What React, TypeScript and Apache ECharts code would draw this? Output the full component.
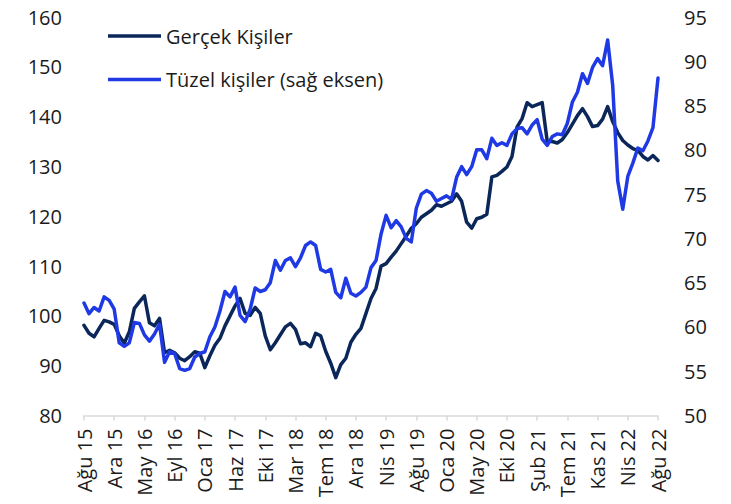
import React, { useEffect, useRef } from "react";
import * as echarts from "echarts";

const tickLabels = [
  "Ağu 15", "Ara 15", "May 16", "Eyl 16", "Oca 17", "Haz 17", "Eki 17", "Mar 18", "Tem 18", "Ara 18",
  "Nis 19", "Ağu 19", "Oca 20", "May 20", "Eki 20", "Şub 21", "Tem 21", "Kas 21", "Nis 22", "Ağu 22",
];
const pointsPerLabel = 6;

const seriesNames = ["Gerçek Kişiler", "Tüzel kişiler (sağ eksen)"];

// Gerçek Kişiler (left axis)
const gercekKisiler = [
  98.1, 96.5, 95.8, 97.5, 99.1, 98.8, 98.3, 96.0, 94.5, 96.8,
  101.5, 102.8, 104.0, 98.6, 98.0, 99.5, 92.6, 93.1, 92.6, 91.5,
  91.0, 91.8, 92.8, 92.5, 89.6, 92.0, 94.1, 95.5, 98.0, 100.0,
  102.0, 103.5, 100.5, 100.1, 101.7, 100.5, 96.0, 93.2, 94.6, 96.2,
  97.8, 98.5, 97.3, 94.4, 94.6, 93.8, 96.5, 96.0, 92.9, 90.5,
  87.6, 90.2, 91.5, 94.7, 96.3, 97.5, 100.5, 103.5, 105.5, 110.0,
  110.5, 111.8, 113.0, 114.5, 116.0, 117.6, 118.5, 119.8, 120.5, 121.2,
  122.3, 122.0, 122.5, 123.0, 124.5, 123.0, 118.8, 117.6, 119.5, 119.8,
  120.4, 127.9, 128.2, 129.0, 129.9, 132.0, 137.9, 139.6, 142.8, 142.0,
  142.4, 142.8, 135.0, 135.0, 134.7, 135.4, 136.8, 138.5, 140.2, 141.6,
  140.0, 138.0, 138.2, 139.5, 142.0, 139.0, 136.8, 135.2, 134.3, 133.6,
  133.2, 132.0, 131.3, 132.2, 131.2,
];

// Tüzel kişiler (right axis)
const tuzelKisiler = [
  62.7, 61.5, 62.2, 61.8, 63.4, 63.0, 62.0, 58.2, 57.8, 58.2,
  60.5, 60.4, 59.1, 58.4, 59.2, 60.3, 56.0, 57.2, 57.0, 55.3,
  55.1, 55.3, 56.6, 57.0, 57.2, 58.9, 60.0, 61.8, 64.0, 63.4,
  64.5, 61.3, 60.6, 62.0, 64.4, 64.0, 64.2, 65.0, 67.5, 66.4,
  67.5, 67.8, 66.8, 67.8, 69.2, 69.6, 69.2, 66.5, 66.2, 66.5,
  63.9, 63.3, 65.5, 63.8, 63.5, 63.9, 64.5, 66.7, 67.5, 70.5,
  72.6, 71.2, 72.0, 71.3, 70.0, 69.6, 73.4, 75.0, 75.4, 75.1,
  74.2, 74.5, 74.8, 74.4, 76.9, 78.1, 77.2, 78.1, 80.0, 80.0,
  79.0, 81.3, 80.5, 80.8, 80.5, 81.8, 82.4, 82.5, 81.8, 82.8,
  83.4, 81.2, 80.5, 81.5, 81.8, 81.7, 83.0, 85.4, 86.5, 88.6,
  87.5, 89.3, 90.3, 89.5, 92.4, 87.3, 76.5, 73.3, 77.0, 78.5,
  80.2, 79.9, 81.0, 82.5, 88.1,
];

const leftAxis = { min: 80, max: 160, interval: 10 };
const rightAxis = { min: 50, max: 95, interval: 5 };

export default function App() {
  const ref = useRef<HTMLDivElement>(null);
  useEffect(() => {
    if (!ref.current) return;
    const chart = echarts.init(ref.current, null, { renderer: "svg" });
    const font = "'Open Sans', sans-serif";
    const textColor = "#1b1b1b";
    const toPoints = (arr: number[]) => arr.map((v, i) => [i, v]);
    chart.setOption({
      animation: false,
      backgroundColor: "#ffffff",
      textStyle: { fontFamily: font },
      grid: { left: 84, right: 73, top: 17, bottom: 88.5 },
      legend: {
        orient: "vertical",
        left: 103,
        top: 21,
        itemWidth: 53,
        itemHeight: 3.5,
        itemGap: 23.5,
        icon: "rect",
        textStyle: { fontSize: 20, color: textColor, fontFamily: font },
        data: seriesNames,
      },
      xAxis: {
        type: "value",
        min: 0,
        max: (tickLabels.length - 1) * pointsPerLabel,
        interval: pointsPerLabel,
        splitLine: { show: false },
        axisLine: { show: true, lineStyle: { color: "#d9d9d9", width: 1.5 } },
        axisTick: { show: true, length: 5, lineStyle: { color: "#d9d9d9", width: 1.5 } },
        axisLabel: {
          rotate: 90,
          margin: 13,
          fontSize: 20,
          color: textColor,
          fontFamily: font,
          formatter: (v: number) => tickLabels[Math.round(v / pointsPerLabel)] ?? "",
        },
      },
      yAxis: [
        {
          type: "value",
          position: "left",
          ...leftAxis,
          splitLine: { show: false },
          axisLine: { show: false },
          axisTick: { show: false },
          axisLabel: { fontSize: 20, color: textColor, margin: 22, fontFamily: font },
        },
        {
          type: "value",
          position: "right",
          ...rightAxis,
          splitLine: { show: false },
          axisLine: { show: false },
          axisTick: { show: false },
          axisLabel: { fontSize: 20, color: textColor, margin: 26, fontFamily: font },
        },
      ],
      series: [
        {
          name: seriesNames[0],
          type: "line",
          yAxisIndex: 0,
          data: toPoints(gercekKisiler),
          symbol: "none",
          color: "#0b2658",
          lineStyle: { width: 3.5, color: "#0b2658", join: "round", cap: "round" },
        },
        {
          name: seriesNames[1],
          type: "line",
          yAxisIndex: 1,
          data: toPoints(tuzelKisiler),
          symbol: "none",
          color: "#1f3ae4",
          lineStyle: { width: 3.5, color: "#1f3ae4", join: "round", cap: "round" },
        },
      ],
    });
    return () => chart.dispose();
  }, []);
  return <div ref={ref} style={{ position: "absolute", left: 0, top: 0, width: 731, height: 504 }} />;
}
